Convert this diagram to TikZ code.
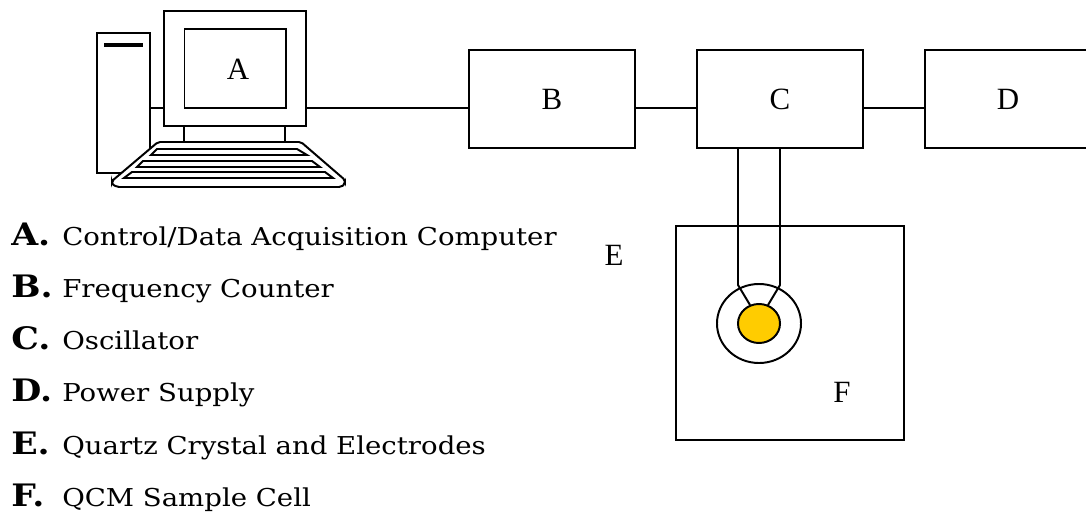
\documentclass[tikz,border=0pt]{standalone}
\usepackage{fontspec}
\setmainfont[FakeStretch=1.12]{DejaVu Serif}
\newfontfamily\labelfont{Liberation Serif}
\usepackage{xcolor}
\usetikzlibrary{shapes.geometric}
\definecolor{crystal}{RGB}{255,204,0}
\tikzset{
  part/.style={rectangle,draw,line width=1.4pt,fill=white,inner sep=0pt},
  partlabel/.style={inner sep=0pt,font=\labelfont\fontsize{22}{24}\selectfont},
  keylabel/.style={anchor=base west,inner sep=0pt,font=\fontsize{17.5}{20}\selectfont},
  keyletter/.style={anchor=base west,inner sep=0pt,font=\bfseries\fontsize{22}{24}\selectfont},
  wire/.style={line width=1.4pt}
}
\begin{document}
\begin{tikzpicture}[x=0.025cm,y=-0.025cm]
        \useasboundingbox (0,0) rectangle (1086,512);

        \node [part,minimum width=1.325cm,minimum height=3.5cm] (tower) at (123.5,103) {};
        \node [part,minimum width=3.525cm,minimum height=2.875cm] (monitor) at (235,68.5) {};
        \node [part,minimum width=2.525cm,minimum height=1.975cm] (screen) at (235,68.5) {};
        \node [partlabel] (a) at (238,69) {A};
        \node [part,minimum width=4.15cm,minimum height=2.45cm] (b) at (552,99) {};
        \node [partlabel] at (b) {B};
        \node [part,minimum width=4.15cm,minimum height=2.45cm] (c) at (780,99) {};
        \node [partlabel] at (c) {C};
        \node [part,minimum width=4.15cm,minimum height=2.45cm] (d) at (1008,99) {};
        \node [partlabel] at (d) {D};
        \node [part,minimum width=5.7cm,minimum height=5.35cm] (cell) at (790,333) {};
        \node [partlabel] (e) at (614,255) {E};
        \node [partlabel] (f) at (842,392) {F};
        \node [ellipse,draw,line width=1.4pt,minimum width=2.1cm,minimum height=1.975cm,inner sep=0pt] (holder) at (759,323.5) {};
        \node [ellipse,draw,line width=1.4pt,fill=crystal,minimum width=1.05cm,minimum height=0.975cm,inner sep=0pt] (quartz) at (759,323.5) {};

        % wires
        \coordinate (bus) at (0,108);
        \draw[wire] (tower.east |- bus) to (monitor.west |- bus);
        \draw[wire] (monitor.east |- bus) to (b.west |- bus);
        \draw[wire] (b.east |- bus) to (c.west |- bus);
        \draw[wire] (c.east |- bus) to (d.west |- bus);

        % leads
        \coordinate (leftbend) at (738,285);
        \coordinate (rightbend) at (780,285);
        \coordinate (lefttip) at (750,305);
        \coordinate (righttip) at (768,305);
        \draw[wire] (leftbend |- c.south) to (leftbend) to (lefttip);
        \draw[wire] (rightbend |- c.south) to (rightbend) to (righttip);

        % stand and keyboard
        \coordinate (standleft) at (184,142);
        \coordinate (standright) at (285,142);
        \draw[wire] (standleft |- monitor.south) to (standleft);
        \draw[wire] (standright |- monitor.south) to (standright);
        \draw[wire,fill=white,rounded corners=1.5pt] (158,142) -- (301,142) -- (345,180) -- (345,184) -- (341,187) -- (117,187) -- (112,184) -- (112,181) -- cycle;
        \draw[wire] (157,149) -- (297,149) -- (307,155) -- (151,155) -- cycle;
        \draw[wire] (143,161) -- (312,161) -- (320,167) -- (137,167) -- cycle;
        \draw[wire] (132,172) -- (325,172) -- (333,178) -- (124,178) -- cycle;
        \draw[line width=2.5pt] (104,45) -- (143,45);

        % key
        \node [keyletter] (ka) at (11,245) {A.};
        \node [keylabel] (ta) at (62,245) {Control/Data Acquisition Computer};
        \node [keyletter] (kb) at (11,297) {B.};
        \node [keylabel] (tb) at (62,297) {Frequency Counter};
        \node [keyletter] (kc) at (11,349) {C.};
        \node [keylabel] (tc) at (62,349) {Oscillator};
        \node [keyletter] (kd) at (11,401) {D.};
        \node [keylabel] (td) at (62,401) {Power Supply};
        \node [keyletter] (ke) at (11,454) {E.};
        \node [keylabel] (te) at (62,454) {Quartz Crystal and Electrodes};
        \node [keyletter] (kf) at (11,506) {F.};
        \node [keylabel] (tf) at (62,506) {QCM Sample Cell};
\end{tikzpicture}
\end{document}
